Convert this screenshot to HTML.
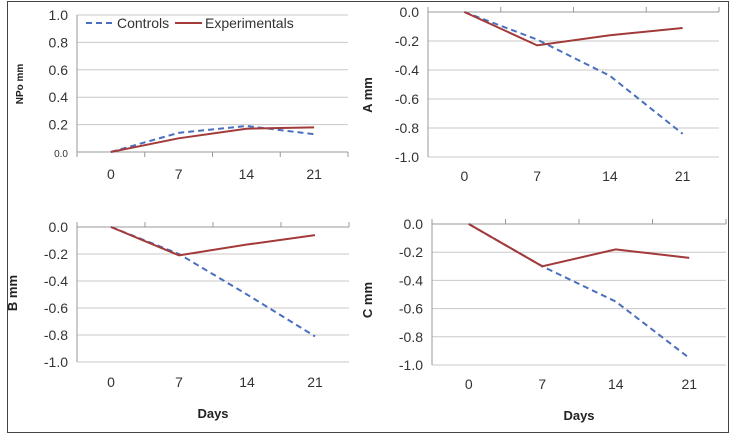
<!DOCTYPE html><html><head><style>body{margin:0;background:#fff}svg{display:block;font-family:"Liberation Sans",sans-serif}</style></head><body>
<svg id="s" width="731" height="434" xmlns="http://www.w3.org/2000/svg">
<rect x="7.5" y="1.5" width="721" height="431" fill="none" stroke="#444" stroke-width="1"/>
</svg>
<script>
const s=document.getElementById('s');let h='';
function panel(o){
 const {x0,x1,yT,yB,vT,vB,lab,labY,labX,labYc,yl,days,c,e,small0}=o;
 const Y=v=>yB+(v-vB)/(vT-vB)*(yT-yB);
 const w=(x1-x0)/4;const X=i=>x0+w*(i+0.5);
 for(let k=0;k<=5;k++){const v=vB+k*(vT-vB)/5;const y=Y(v);
  h+=`<line x1="${x0}" x2="${x1}" y1="${y}" y2="${y}" stroke="${k==(vT>0?0:5)?'#999':'#c8c8c8'}" stroke-width="1"/>`;
  const t=v.toFixed(1).replace('-0.0','0.0');
  h+=`<text x="${x0-9}" y="${y+5}" text-anchor="end" font-size="${small0&&k==0?10:14}" fill="#333">${t}</text>`;}
 h+=`<line x1="${x0}" x2="${x0}" y1="${yT}" y2="${yB}" stroke="#999"/>`;
 const ax=vT>0?yB:yT;
 for(let i=0;i<=4;i++){const x=x0+w*i;h+=`<line x1="${x}" x2="${x}" y1="${ax}" y2="${ax+(vT>0?5:-5)}" stroke="#999"/>`;}
 ['0','7','14','21'].forEach((t,i)=>h+=`<text x="${X(i)}" y="${labY}" text-anchor="middle" font-size="14" fill="#333">${t}</text>`);
 h+=`<polyline points="${c.map((v,i)=>X(i)+','+Y(v)).join(' ')}" fill="none" stroke="#4a6fbf" stroke-width="2" stroke-dasharray="6,4"/>`;
 h+=`<polyline points="${e.map((v,i)=>X(i)+','+Y(v)).join(' ')}" fill="none" stroke="#a33a3a" stroke-width="2"/>`;
 h+=`<text transform="translate(${labX},${labYc}) rotate(-90)" text-anchor="middle" font-size="${yl}" font-weight="bold" fill="#222">${lab}</text>`;
 if(days)h+=`<text x="${(x0+x1)/2}" y="${days}" text-anchor="middle" font-size="13" font-weight="bold" fill="#222">Days</text>`;
}
panel({x0:77,x1:348,yT:15,yB:152,vT:1,vB:0,lab:'NPo mm',labX:23,labYc:84,yl:10,labY:179,c:[0,.14,.19,.13],e:[0,.10,.17,.18],small0:true});
panel({x0:428,x1:719,yT:12,yB:157,vT:0,vB:-1,lab:'A mm',labX:372,labYc:95,yl:13,labY:181,c:[0,-.19,-.44,-.84],e:[0,-.23,-.16,-.11]});
panel({x0:77,x1:349,yT:227,yB:362,vT:0,vB:-1,lab:'B mm',labX:17,labYc:293,yl:13,labY:387,days:418,c:[0,-.20,-.50,-.81],e:[0,-.21,-.13,-.06]});
panel({x0:432,x1:726,yT:224,yB:365,vT:0,vB:-1,lab:'C mm',labX:372,labYc:300,yl:13,labY:389,days:420,c:[0,-.30,-.55,-.95],e:[0,-.30,-.18,-.24]});
h+=`<line x1="86" x2="115" y1="23" y2="23" stroke="#4a6fbf" stroke-width="2" stroke-dasharray="6,4"/><text x="117" y="28" font-size="14" fill="#333">Controls</text>`;
h+=`<line x1="175" x2="202" y1="23" y2="23" stroke="#a33a3a" stroke-width="2"/><text x="205" y="28" font-size="14" fill="#333">Experimentals</text>`;
s.insertAdjacentHTML('beforeend',h);
</script></body></html>
